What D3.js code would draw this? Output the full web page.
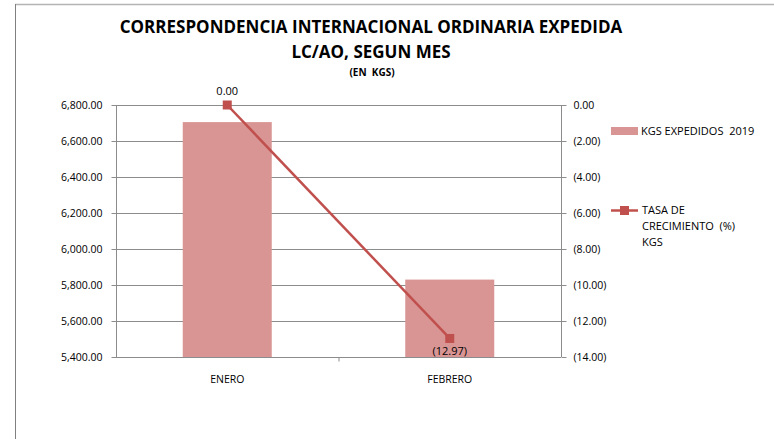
<!DOCTYPE html>
<html><head><meta charset="utf-8">
<script src="https://cdn.jsdelivr.net/npm/d3@7"></script>
<style>body{margin:0;background:#fff}svg{display:block}text{font-family:"Open Sans","Liberation Sans",sans-serif;white-space:pre}</style>
</head><body><svg id="c" width="774" height="439"></svg>
<script>
const categories = ["ENERO", "FEBRERO"];
const kgsValues = [6705, 5830];
const rateValues = [0.00, -12.97];
const leftTicks = [5400, 5600, 5800, 6000, 6200, 6400, 6600, 6800];
const rightTicks = [0, -2, -4, -6, -8, -10, -12, -14];
const titleLines = ["CORRESPONDENCIA INTERNACIONAL ORDINARIA EXPEDIDA", "LC/AO, SEGUN MES"];
const subtitle = "(EN  KGS)";
const barLegend = "KGS EXPEDIDOS  2019";
const lineLegend = ["TASA DE", "CRECIMIENTO  (%)", "KGS"];

const svg = d3.select("#c");
const L = 116, R = 561, T = 105, B = 357;
const barColor = "#d99594", lineColor = "#c0504d", gridColor = "#8c8c8c";

// frame
svg.append("line").attr("x1",15).attr("x2",774).attr("y1",4.5).attr("y2",4.5).attr("stroke","#b4b4b4").attr("stroke-width",1.5);
svg.append("line").attr("x1",15.5).attr("x2",15.5).attr("y1",4).attr("y2",439).attr("stroke","#808080").attr("stroke-width",1);

const fmtL = d3.format(",.2f");
const fmtR = v => v < 0 ? "(" + d3.format(".2f")(-v) + ")" : d3.format(".2f")(v);

const x = d3.scaleBand().domain(categories).range([L, R]).paddingInner(0.6).paddingOuter(0.3);
const xc = d3.scaleBand().domain(categories).range([L, R]);
const yL = d3.scaleLinear().domain([5400, 6800]).range([B, T]);
const yR = d3.scaleLinear().domain([-14, 0]).range([B, T]);

// gridlines
svg.append("g").selectAll("line").data(leftTicks).join("line")
  .attr("x1", L).attr("x2", R).attr("y1", d => Math.round(yL(d))+0.5).attr("y2", d => Math.round(yL(d))+0.5)
  .attr("stroke", gridColor).attr("stroke-width", 1);

// bars
svg.append("g").selectAll("rect").data(categories).join("rect")
  .attr("x", d => x(d)).attr("width", x.bandwidth())
  .attr("y", (d,i) => yL(kgsValues[i])).attr("height", (d,i) => B - yL(kgsValues[i]))
  .attr("fill", barColor);

// left axis
const gl = svg.append("g").attr("transform", `translate(${L+0.5},0)`)
  .call(d3.axisLeft(yL).tickValues(leftTicks).tickFormat(fmtL).tickSize(5).tickPadding(9));
gl.selectAll("path,line").attr("stroke", gridColor);
gl.select(".domain").attr("d", `M0,${T}V${B}`);
gl.selectAll("text").attr("font-size", 10.5).attr("fill", "#000");
gl.selectAll(".tick").attr("transform", d => `translate(0,${Math.round(yL(d))+0.5})`);

// right axis
const gr = svg.append("g").attr("transform", `translate(${R+0.5},0)`)
  .call(d3.axisRight(yR).tickValues(rightTicks).tickFormat(fmtR).tickSize(5).tickPadding(7));
gr.selectAll("path,line").attr("stroke", gridColor);
gr.select(".domain").attr("d", `M0,${T}V${B}`);
gr.selectAll("text").attr("font-size", 10.5).attr("fill", "#000");
gr.selectAll(".tick").attr("transform", d => `translate(0,${Math.round(yR(d))+0.5})`);

// bottom axis
const gb = svg.append("g").attr("transform", `translate(0,${B+0.5})`)
  .call(d3.axisBottom(xc).tickSize(0).tickPadding(18));
gb.select(".domain").remove();
gb.selectAll("text").attr("font-size", 10.5).attr("fill", "#000");
gb.selectAll("line.sep").data([categories[1]]).join("line").attr("class","sep")
  .attr("x1", d => xc(d)+0.5).attr("x2", d => xc(d)+0.5).attr("y1", 0).attr("y2", 4).attr("stroke", gridColor);

// line series
const cx = (d) => xc(d) + xc.bandwidth()/2;
const line = d3.line().x((d,i) => cx(categories[i])).y(d => yR(d));
svg.append("path").datum(rateValues).attr("d", line).attr("fill","none").attr("stroke", lineColor).attr("stroke-width", 2.5);
svg.append("g").selectAll("rect").data(rateValues).join("rect")
  .attr("x", (d,i) => cx(categories[i]) - 4.5).attr("y", d => yR(d) - 4.5)
  .attr("width", 9).attr("height", 9).attr("fill", lineColor);
svg.append("g").selectAll("text").data(rateValues).join("text")
  .attr("x", (d,i) => cx(categories[i])).attr("y", (d,i) => i === 0 ? yR(d) - 10 : yR(d) + 17)
  .attr("text-anchor","middle").attr("font-size", 11).text(d => fmtR(d));

// titles
svg.append("g").selectAll("text").data(titleLines).join("text")
  .attr("x", 371).attr("y", (d,i) => 33 + i*25).attr("text-anchor","middle")
  .attr("font-size", 17).attr("font-weight","bold").attr("fill","#000").text(d => d);
svg.append("text").attr("x", 372).attr("y", 76).attr("text-anchor","middle")
  .attr("font-size", 10).attr("font-weight","bold").text(subtitle);

// legend
svg.append("rect").attr("x", 611).attr("y", 127).attr("width", 27).attr("height", 8).attr("fill", barColor);
svg.append("text").attr("x", 641).attr("y", 135).attr("font-size", 11).text(barLegend);
svg.append("line").attr("x1", 611).attr("x2", 638).attr("y1", 210.5).attr("y2", 210.5).attr("stroke", lineColor).attr("stroke-width", 2.5);
svg.append("rect").attr("x", 620).attr("y", 206).attr("width", 9).attr("height", 9).attr("fill", lineColor);
svg.append("g").selectAll("text").data(lineLegend).join("text")
  .attr("x", 642).attr("y", (d,i) => 214 + i*16).attr("font-size", 11).text(d => d);
</script></body></html>
